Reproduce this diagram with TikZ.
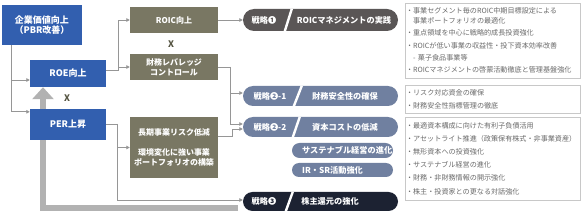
\documentclass[tikz,border=0pt]{standalone}
\usepackage{fontspec}
\setmainfont{Noto Sans CJK JP}
\usepackage{xcolor}
\definecolor{vcblue}{RGB}{50,95,175}
\definecolor{vcolive}{RGB}{121,119,99}
\definecolor{vcgray}{RGB}{90,86,86}
\definecolor{vcslate}{RGB}{112,128,160}
\definecolor{vcnavy}{RGB}{28,34,50}
\definecolor{vcline}{RGB}{150,150,150}
\definecolor{vcbar}{RGB}{178,178,178}
\definecolor{vcframe}{RGB}{200,200,200}
\definecolor{vctext}{RGB}{105,105,105}
\definecolor{vcx}{RGB}{85,84,66}
\usetikzlibrary{arrows.meta, calc}

\tikzset{
  bluebox/.style={fill=vcblue, text=white, font=\fontsize{9}{10.5}\selectfont\bfseries, align=center, inner sep=0pt},
  olivebox/.style={fill=vcolive, text=white, font=\fontsize{8}{10}\selectfont\bfseries, align=center, inner sep=0pt, minimum width=88pt},
  timesmark/.style={text=vcx, font=\fontsize{9}{10}\selectfont\bfseries, inner sep=0pt},
  pill/.style={rectangle, rounded corners=#1, inner sep=0pt},
  tagtext/.style={text=white, font=\fontsize{8.2}{10}\selectfont\bfseries, inner sep=0pt},
  slash/.style={white, line width=2.4pt},
  conn/.style={vcline, line width=0.9pt, -{Triangle[length=3.5pt, width=3.5pt]}},
  bigarrow/.style={vcbar, line width=6pt, -{Triangle[length=12pt, width=21pt]}},
  infobox/.style={draw=vcframe, line width=0.8pt, text=vctext, align=left, text width=173pt, inner xsep=1pt, inner ysep=0pt}
}

\begin{document}
\begin{tikzpicture}[x=1pt, y=-1pt]
  \useasboundingbox (0,0) rectangle (582,219);

  % --- Left column: value drivers ---
  \node[bluebox, minimum width=80pt, minimum height=40pt] (top) at (42,25) {企業価値向上\\（PBR改善）};
  \node[bluebox, minimum width=76pt, minimum height=27pt] (roe) at (68,73.5) {ROE向上};
  % thick return bar up to ROE
  \coordinate (barturn) at (43,208.5);
  \draw[bigarrow] ($(barturn)+(195,0)$) -- (barturn) -- (roe.south -| barturn);
  \node[bluebox, minimum width=76pt, minimum height=31pt] (per) at (68,124.5) {PER上昇};
  \node[timesmark] (xroe) at (67,98) {X};

  % --- Middle column ---
  \node[olivebox, minimum height=26pt] (roic) at (174,20) {ROIC向上};
  \node[timesmark] (xroic) at (171,44) {X};
  \node[olivebox, minimum height=26pt] (fin) at (174,67) {財務レバレッジ\\コントロール};
  \node[olivebox, minimum height=61pt] (risk) at (174,147.5) {長期事業リスク低減\\[10pt]環境変化に強い事業\\ポートフォリオの構築};

  % --- Strategy pills ---
  \node[pill=11pt, fill=vcgray, minimum width=155pt, minimum height=22pt] (s1) at (320.5,20) {};
  \draw[slash] ($(s1.south west)+(42,0)$) -- ($(s1.north west)+(49,0)$);
  \node[tagtext] (s1tag) at (264,20) {戦略❶};
  \node[tagtext] (s1txt) at (344,20) {ROICマネジメントの実践};

  \node[pill=10pt, fill=vcslate, minimum width=155pt, minimum height=20pt] (s21) at (320.5,96) {};
  \draw[slash] ($(s21.south west)+(51,0)$) -- ($(s21.north west)+(59,0)$);
  \node[tagtext] (s21tag) at (270,96) {戦略❷-1};
  \node[tagtext] (s21txt) at (345,96) {財務安全性の確保};

  \node[pill=10pt, fill=vcslate, minimum width=155pt, minimum height=20pt] (s22) at (320.5,127) {};
  \draw[slash] ($(s22.south west)+(50,0)$) -- ($(s22.north west)+(57,0)$);
  \node[tagtext] (s22tag) at (270,127) {戦略❷-2};
  \node[tagtext] (s22txt) at (345,127) {資本コストの低減};

  \node[pill=7.5pt, fill=vcslate, minimum width=101pt, minimum height=15pt] (sus) at (342.5,150.5) {};
  \node[tagtext, anchor=west] (sustxt) at (302,150.5) {サステナブル経営の進化};
  \node[pill=7pt, fill=vcslate, minimum width=101pt, minimum height=14pt] (ir) at (342.5,170) {};
  \node[tagtext, anchor=west] (irtxt) at (302,170) {IR・SR活動強化};

  \node[pill=9.5pt, fill=vcnavy, minimum width=155pt, minimum height=19pt] (s3) at (320.5,201.5) {};
  \draw[slash] ($(s3.south west)+(43,0)$) -- ($(s3.north west)+(50,0)$);
  \node[tagtext] (s3tag) at (264,201.5) {戦略❸};
  \node[tagtext] (s3txt) at (330,201.5) {株主還元の強化};

  % --- Connectors ---
  \coordinate (trunk) at (11,0);
  \draw[conn] (top.south -| trunk) |- ($(roe.west)+(0,6.5)$);
  \draw[conn] (top.south -| trunk) |- ($(per.north west)+(0,3)$);
  \coordinate (jroe) at (118,70);
  \draw[conn] (roe.east |- jroe) -- (jroe) |- (roic.west);
  \draw[conn] (jroe) |- (fin.west);
  \draw[conn] (roic.east) -- (s1.west);
  \coordinate (jfin) at (230,67);
  \draw[conn] (fin.east) -- (jfin) |- ($(s21.west)+(0,-3)$);
  \draw[conn] (jfin) |- ($(s22.west)+(0,-3)$);
  \coordinate (jrisk) at (232,136);
  \draw[conn] (risk.east |- jrisk) -- (jrisk) |- ($(s22.west)+(0,2)$);
  \coordinate (jper) at (117,124);
  \draw[conn] (per.east |- jper) -- (jper) |- (risk.west);
  \draw[conn] (jper) |- ($(s3.west)+(0,-1.5)$);

  % --- Detail boxes ---
  \node[infobox, minimum height=75pt, font=\fontsize{7.1}{12.2}\selectfont] (info1) at (492.5,40.5) {・事業セグメント毎のROIC中期目標設定による\\[-2.2pt]\hspace*{1em}事業ポートフォリオの最適化\\・重点領域を中心に戦略的成長投資強化\\・ROICが低い事業の収益性・投下資本効率改善\\\hspace*{1em}- 菓子食品事業等\\・ROICマネジメントの啓蒙活動徹底と管理基盤強化};
  \node[infobox, minimum height=28pt, font=\fontsize{7.1}{13}\selectfont] (info2) at (492.5,99) {・リスク対応資金の確保\\・財務安全性指標管理の徹底};
  \node[infobox, minimum height=83pt, font=\fontsize{7.1}{13.2}\selectfont] (info3) at (492.5,158.5) {・最適資本構成に向けた有利子負債活用\\・アセットライト推進（政策保有株式・非事業資産）\\・無形資本への投資強化\\・サステナブル経営の進化\\・財務・非財務情報の開示強化\\・株主・投資家との更なる対話強化};
\end{tikzpicture}
\end{document}
